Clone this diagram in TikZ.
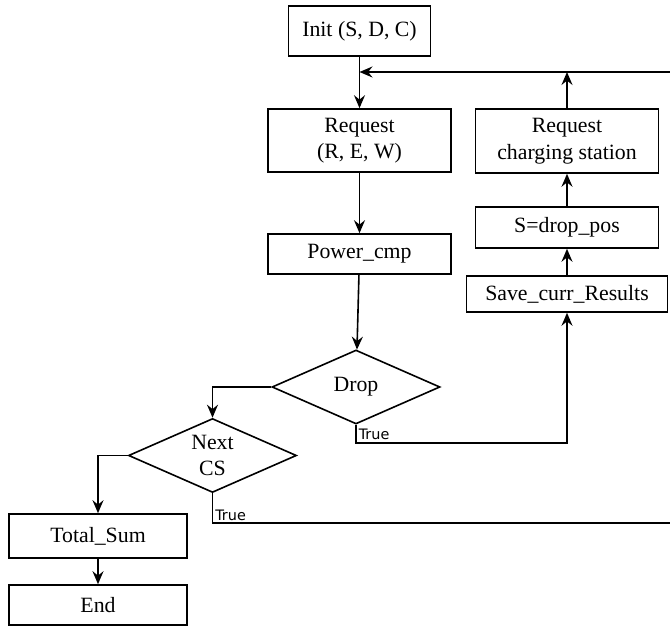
\documentclass[tikz,border=0pt]{standalone}
\usepackage{fontspec}
\setmainfont{Liberation Serif}
\newfontfamily\truefont{DejaVu Sans}
\usetikzlibrary{shapes.geometric,arrows.meta}

\begin{document}
\begin{tikzpicture}[x=25pt,y=25pt,line width=0.8pt,
  >={Stealth[length=6.5pt,width=5.5pt,inset=2.2pt]},
  box/.style={draw,align=center,inner sep=0pt,font=\fontsize{10.9}{13.3}\selectfont},
  cond/.style={draw,diamond,aspect=2.27,inner sep=0pt,align=center,
    minimum width=84pt,minimum height=37pt,font=\fontsize{10.9}{13.3}\selectfont},
  tlabel/.style={font=\truefont\fontsize{7.2}{8}\selectfont,inner sep=1pt,anchor=south west}]
  \useasboundingbox (0,0) rectangle (13.4,12.52);

  \node[box,minimum width=71pt,minimum height=25pt] (init) at (7.19,11.9) {Init (S, D, C)};
  \node[box,minimum width=91.5pt,minimum height=31.5pt] (req) at (7.19,9.71) {Request\\(R, E, W)};
  \node[box,minimum width=91.5pt,minimum height=20pt] (pow) at (7.19,7.44) {Power\_cmp};
  \node[cond] (drop) at (7.12,4.78) {Drop};
  \node[cond] (next) at (4.25,3.41) {Next\\CS};
  \node[box,minimum width=89pt,minimum height=22pt] (tot) at (1.96,1.8) {Total\_Sum};
  \node[box,minimum width=89pt,minimum height=20pt] (fin) at (1.96,0.42) {End};

  \node[box,minimum width=100.5pt,minimum height=18pt] (save) at (11.34,6.64) {Save\_curr\_Results};
  \node[box,minimum width=91.5pt,minimum height=20.5pt] (spos) at (11.34,7.97) {S=drop\_pos};
  \node[box,minimum width=91.5pt,minimum height=32pt] (rcs) at (11.34,9.70) {Request\\charging station};

  \coordinate (j) at (7.19,11.08);
  \coordinate (e) at (13.6,11.08);

  \draw[->] (init) -- (req);
  \draw[->] (req) -- (pow);
  \draw[->] (pow) -- (drop);
  \draw[->] (drop.west) -| (next.north);
  \draw[->] (next.west) -| (tot.north);
  \draw[->] (tot) -- (fin);

  \draw[->] (drop.south) -- ++(0,-0.36) node[tlabel] {True} -| (save.south);
  \draw[->] (save) -- (spos);
  \draw[->] (spos) -- (rcs);
  \draw[->] (rcs.north) -- (rcs.north |- j);
  \draw[->] (next.south) -- ++(0,-0.6) node[tlabel] {True} -| (e) -- (j);
\end{tikzpicture}
\end{document}
